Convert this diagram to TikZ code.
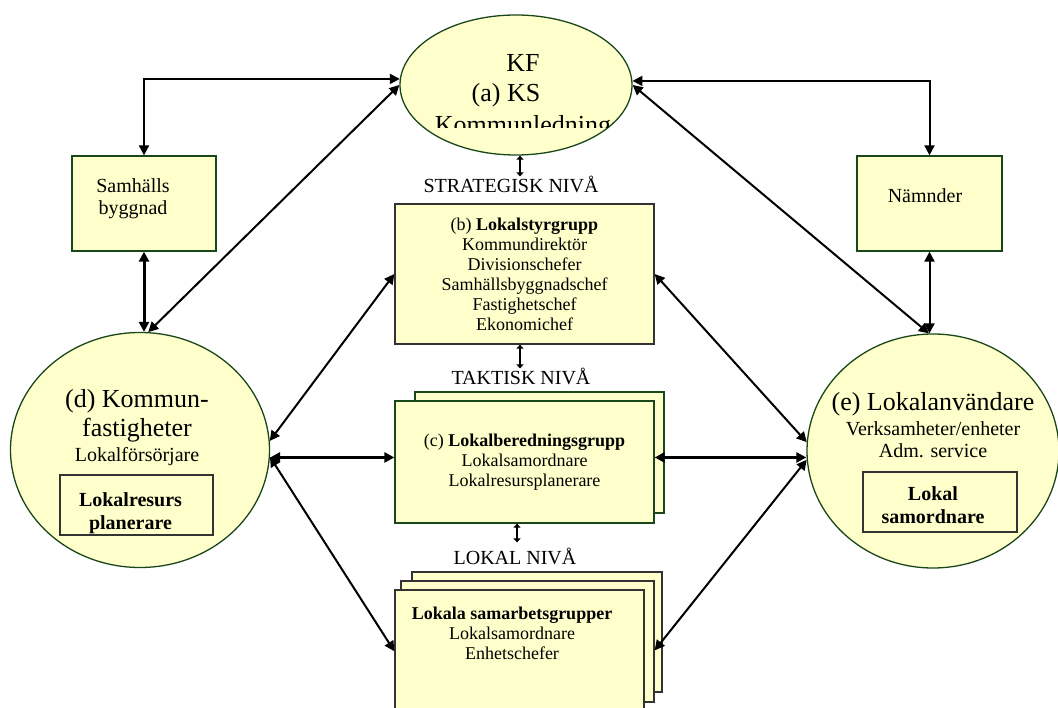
\documentclass[tikz,border=0pt]{standalone}
\usepackage{fontspec}
\setmainfont{Liberation Serif}
\usetikzlibrary{shapes.geometric,arrows.meta}
\definecolor{paleyellow}{HTML}{FFFFCC}
\definecolor{darkgreen}{HTML}{1A471A}
\definecolor{framegray}{HTML}{333333}
\tikzset{
	bubble/.style={ellipse, draw=darkgreen, fill=paleyellow, line width=1.3pt, inner sep=0pt},
	box/.style={rectangle, draw=darkgreen, fill=paleyellow, line width=1.3pt, inner sep=0pt, align=center},
	greybox/.style={box, draw=framegray},
	link/.style={{Triangle[length=10pt,width=10pt]}-{Triangle[length=10pt,width=10pt]}, line width=2pt},
	heavy/.style={link, line width=3pt},
	tick/.style={{Triangle[length=4pt,width=7pt]}-{Triangle[length=4pt,width=7pt]}, line width=1.6pt},
	big/.style={font=\fontsize{26}{30}\selectfont, inner sep=0pt},
	mid/.style={font=\fontsize{20}{22}\selectfont, inner sep=0pt, align=center},
	small/.style={font=\fontsize{18}{20}\selectfont, inner sep=0pt, align=center},
	boldmid/.style={font=\bfseries\fontsize{20}{23}\selectfont, inner sep=0pt, align=center}
}

\begin{document}
\begin{tikzpicture}[x=1pt,y=-1pt]
			\clip (0,0) rectangle (1058,708);
			\fill[white] (0,0) rectangle (1058,708);
			% ellipses
			\node[bubble, minimum width=232pt, minimum height=140pt] (kf) at (516,85) {};
			\node[bubble, minimum width=259pt, minimum height=235pt] (d) at (140,450) {};
			\node[bubble, minimum width=252pt, minimum height=234pt] (e) at (933,451) {};
			\node[big, anchor=base] (kfa) at (523,72) {KF};
			\node[big, anchor=base] (kfb) at (506,102) {(a) KS};
			\begin{scope}
				\clip (400,0) rectangle (640,128);
				\node[big, anchor=base] (kfc) at (523,134) {Kommunledning};
			\end{scope}
			\node[big, anchor=base] (dtitle) at (137,408) {(d) Kommun-};
			\node[big, anchor=base] (dsub) at (137,437) {fastigheter};
			\node[mid, anchor=base] (drole) at (137,462) {Lokalförsörjare};
			\node[greybox, minimum width=153pt, minimum height=60pt] (dbox) at (136.5,505) {};
			\node[boldmid, anchor=north] (dboxtext) at (130.5,492.3) {Lokalresurs\\planerare};
			\node[big, anchor=base] (etitle) at (933,411) {(e) Lokalanvändare};
			\node[mid, anchor=base] (erole) at (933,436) {Verksamheter/enheter};
			\node[mid, anchor=base] (eadm) at (933,457) {Adm. service};
			\node[greybox, minimum width=154pt, minimum height=60pt] (ebox) at (940,502) {};
			\node[boldmid, anchor=north] (eboxtext) at (933,486.3) {Lokal\\samordnare};
			% side boxes
			\node[box, minimum width=144pt, minimum height=95pt] (samh) at (144,203.5) {};
			\node[mid] (samhtext) at (133,199) {Samhälls\\byggnad};
			\node[box, minimum width=145pt, minimum height=95pt] (namn) at (929.5,203.5) {};
			\node[mid, anchor=base] (namntext) at (925,203) {Nämnder};
			% levels
			\node[mid, anchor=base] (strat) at (511,193) {STRATEGISK NIVÅ};
			\node[greybox, small, minimum width=259pt, minimum height=140pt] (b) at (524.5,274) {(b) \textbf{Lokalstyrgrupp}\\Kommundirektör\\Divisionschefer\\Samhällsbyggnadschef\\Fastighetschef\\Ekonomichef};
			\node[mid, anchor=base] (takt) at (521,385) {TAKTISK NIVÅ};
			\node[box, minimum width=249pt, minimum height=121pt] (cback) at (539.5,452.5) {};
			\node[box, small, minimum width=259pt, minimum height=122pt] (c) at (524.5,462) {(c) \textbf{Lokalberedningsgrupp}\\Lokalsamordnare\\Lokalresursplanerare};
			\node[mid, anchor=base] (lok) at (515,564) {LOKAL NIVÅ};
			\node[greybox, minimum width=250pt, minimum height=120pt] (lsg3) at (537,632) {};
			\node[greybox, minimum width=253pt, minimum height=121pt] (lsg2) at (527.5,641.5) {};
			\node[greybox, minimum width=249pt, minimum height=140pt] (lsg1) at (519.5,660) {};
			\node[small, anchor=north] (lsgtext) at (512,606.5) {\textbf{Lokala samarbetsgrupper}\\Lokalsamordnare\\Enhetschefer};
			% connectors
			\draw[link] (samh.north) |- (kf.177);
			\draw[link] (namn.north) |- (kf.2);
			\draw[link] (kf.west) -- (d.86);
			\draw[link] (kf.east) -- (e.92);
			\draw[heavy] (samh.south) -- (samh.south |- d.north);
			\draw[link] (namn.south) -- (namn.south |- e.north);
			\draw[link] (d.4) -- (b.west);
			\draw[heavy] (d.east |- c.178) -- (c.178);
			\draw[link] (d.-3) -- (lsg1.176);
			\draw[link] (b.east) -- (e.176);
			\draw[heavy] (c.2) -- (c.2 -| e.west);
			\draw[link] (lsg2.-4) -- (e.184);
			\coordinate (t1) at ([xshift=4pt]kf.south);
			\coordinate (t2) at ([xshift=-4.5pt]b.south);
			\coordinate (t3) at ([xshift=-7.5pt]c.south);
			\draw[tick] (t1) -- (t1 |- strat.north);
			\draw[tick] (t2) -- (t2 |- takt.north);
			\draw[tick, shorten >=5pt] (t3) -- (t3 |- lok.north);
\end{tikzpicture}
\end{document}
